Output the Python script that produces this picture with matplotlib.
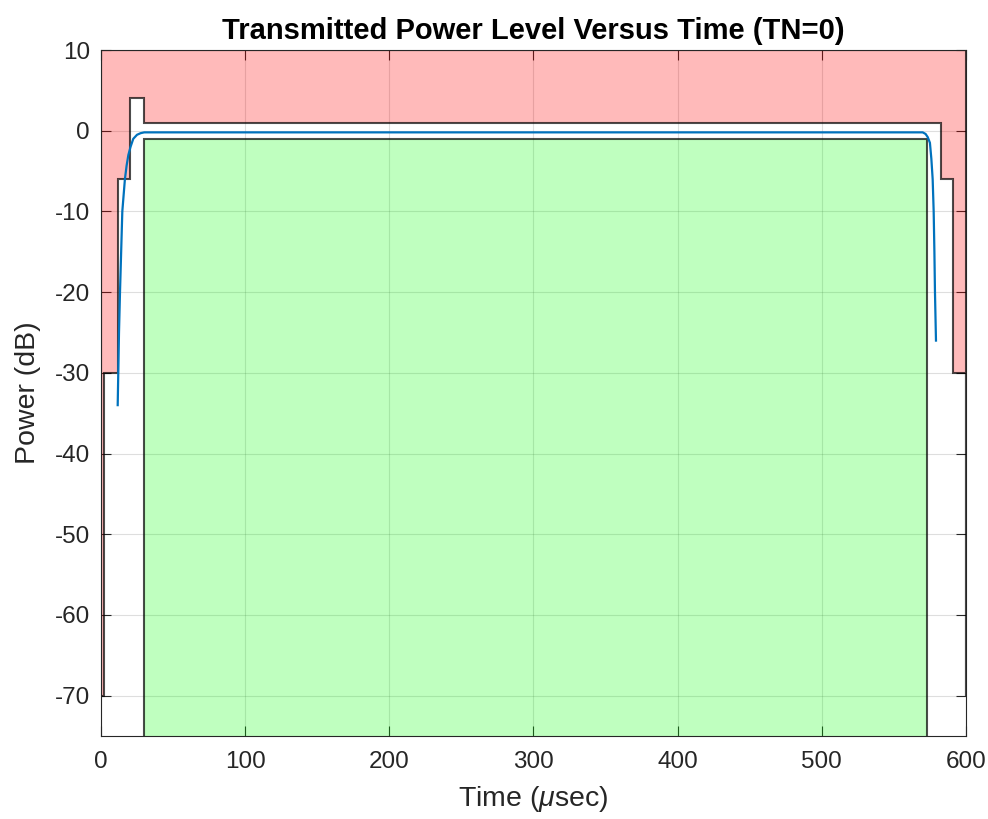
import matplotlib
matplotlib.use("Agg")
import matplotlib.pyplot as plt

plt.rcParams['font.family'] = ['Liberation Sans', 'DejaVu Sans']
plt.rcParams['axes.unicode_minus'] = False
plt.rcParams['mathtext.fontset'] = 'custom'
plt.rcParams['mathtext.rm'] = 'Liberation Sans'
plt.rcParams['mathtext.it'] = 'Liberation Sans:italic'

# Upper mask: segment boundaries (µs) and levels (dB) between them
mask_up_t = [0, 2, 12, 20, 30, 582.8, 590.8, 600]
mask_up_db = [-70, -30, -6, 4, 1, -6, -30]
mask_floor_db = -70

# Lower mask: useful part of burst
mask_lo_t = [30, 572.8]
mask_lo_db = -1

sig_t = [11.6, 12.0, 12.5, 13.2, 14.0, 14.8, 15.7, 16.6, 17.8, 19.0, 20.5, 22.4,
         25.0, 27.5, 30.0, 100, 200, 300, 400, 500, 560, 570, 572.0, 573.5,
         575.0, 576.0, 576.9, 577.6, 578.1, 578.5, 579.2]
sig_db = [-34, -30, -25, -20, -15, -10, -8, -6, -4.3, -3, -2, -1,
          -0.5, -0.3, -0.2, -0.2, -0.2, -0.2, -0.2, -0.2, -0.2, -0.2, -0.4, -0.8,
          -1.5, -3.5, -6, -10, -15, -20, -26]

xticks = [0, 100, 200, 300, 400, 500, 600]
yticks = [-70, -60, -50, -40, -30, -20, -10, 0, 10]
ylo, yhi = -75, 10

fig = plt.figure(figsize=(9.88, 8.19), dpi=100)
ax = fig.add_axes([0.1022, 0.1013, 0.8755, 0.8376])

# red polygon (above upper mask)
px = [mask_up_t[0]]
py = [yhi]
for i, lev in enumerate(mask_up_db):
    px += [mask_up_t[i], mask_up_t[i + 1]]
    py += [lev, lev]
px += [mask_up_t[-1], mask_up_t[-1]]
py += [mask_floor_db, yhi]
ax.fill(px, py, facecolor=(1, 0, 0, 0.27), edgecolor=(0, 0, 0, 0.7), lw=1.5, zorder=2)

# green polygon (below lower mask)
gx = [mask_lo_t[0], mask_lo_t[0], mask_lo_t[1], mask_lo_t[1]]
gy = [ylo - 10, mask_lo_db, mask_lo_db, ylo - 10]
ax.fill(gx, gy, facecolor=(0, 1, 0, 0.25), edgecolor=(0, 0, 0, 0.7), lw=1.5, zorder=2)

ax.plot(sig_t, sig_db, color='#0072BD', lw=1.6, zorder=3)

ax.set_xlim(0, 600)
ax.set_ylim(ylo, yhi)
ax.set_xticks(xticks)
ax.set_yticks(yticks)
ax.grid(True, color=(0.15, 0.15, 0.15), alpha=0.15, lw=0.8)
ax.set_axisbelow(True)
ax.tick_params(direction='in', length=7, top=True, right=True, colors='#262626',
               labelsize=17.5, width=0.8)
ax.tick_params(axis='x', pad=11)
ax.tick_params(axis='y', pad=8)
for s in ax.spines.values():
    s.set_color('#262626')
    s.set_linewidth(0.8)

ax.set_xlabel('Time ($\\mu$sec)', fontsize=20.5, color='#262626', labelpad=8)
ax.set_ylabel('Power (dB)', fontsize=20.5, color='#262626', labelpad=10)
ax.set_title('Transmitted Power Level Versus Time (TN=0)', fontsize=21,
             fontweight='bold', pad=8)

fig.savefig('out.png', dpi=100)
